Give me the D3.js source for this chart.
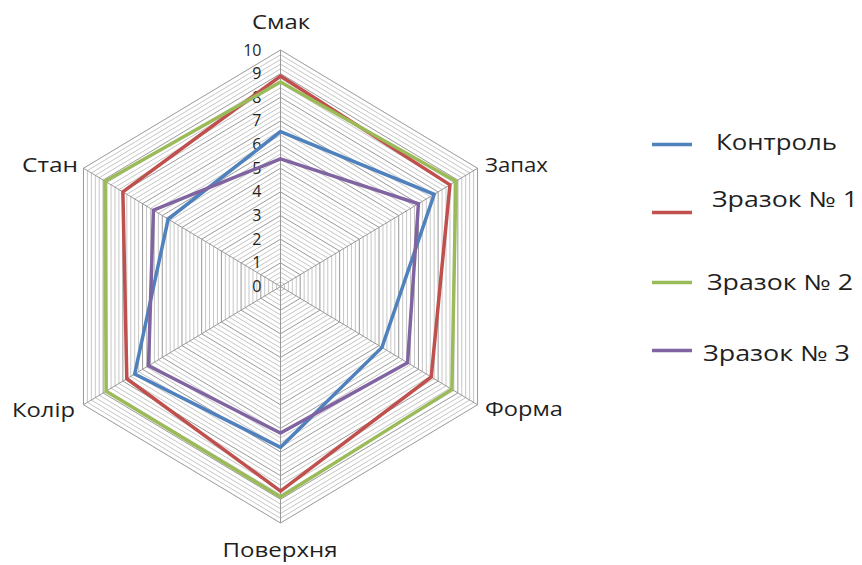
<!DOCTYPE html>
<html>
<head>
<meta charset="utf-8">
<script src="https://cdn.jsdelivr.net/npm/d3@7"></script>
<style>
  html, body { margin: 0; padding: 0; background: #fff; }
  svg { display: block; }
  text { font-family: "Open Sans", "Noto Sans", sans-serif; fill: #1f1f1f; }
</style>
</head>
<body>
<svg id="chart" width="862" height="565"></svg>
<script>
// ---- data ----
const categories = ["Смак", "Запах", "Форма", "Поверхня", "Колір", "Стан"];
const seriesNames = ["Контроль", "Зразок № 1", "Зразок № 2", "Зразок № 3"];
const kontrol = [6.55, 7.8, 5.15, 6.8, 7.4, 5.7];
const zrazok1 = [8.9, 8.6, 7.65, 8.65, 7.8, 8.0];
const zrazok2 = [8.65, 8.9, 8.7, 8.9, 8.85, 8.9];
const zrazok3 = [5.4, 7.0, 6.45, 6.2, 6.7, 6.45];
const tickLabels = [0, 1, 2, 3, 4, 5, 6, 7, 8, 9, 10];
const seriesValues = [kontrol, zrazok1, zrazok2, zrazok3];

// ---- style / layout ----
const colors = ["#4F81BD", "#C0504D", "#9BBB59", "#8064A2"];
const cx = 280.5, cy = 286.5, R = 236.5, kx = 0.962;
const svg = d3.select("#chart");
const r = d3.scaleLinear().domain([0, 10]).range([0, R]);
const angle = d3.scaleLinear().domain([0, categories.length]).range([0, 2 * Math.PI]);
const px = (i, v) => cx + kx * r(v) * Math.sin(angle(i));
const py = (i, v) => cy - r(v) * Math.cos(angle(i));

const g = svg.append("g");

// minor grid
const minorLevels = d3.range(0, 10.001, 0.2).filter(v => Math.abs(v - Math.round(v)) > 1e-6);
const ring = v => categories.map((c, i) => [px(i, v), py(i, v)]);
const lineClosed = d3.line().curve(d3.curveLinearClosed);
g.selectAll("path.minor").data(minorLevels).enter().append("path")
  .attr("class", "minor")
  .attr("d", v => lineClosed(ring(v)))
  .attr("fill", "none").attr("stroke", "#c6c6c6").attr("stroke-width", 1);
// major grid
g.selectAll("path.major").data(tickLabels.filter(v => v > 0)).enter().append("path")
  .attr("class", "major")
  .attr("d", v => lineClosed(ring(v)))
  .attr("fill", "none").attr("stroke", "#999999").attr("stroke-width", 1);
// spokes
g.selectAll("line.spoke").data(categories).enter().append("line")
  .attr("x1", cx).attr("y1", cy)
  .attr("x2", (c, i) => px(i, 10)).attr("y2", (c, i) => py(i, 10))
  .attr("stroke", "#999999").attr("stroke-width", 1);

// tick labels
g.selectAll("text.tick").data(tickLabels).enter().append("text")
  .attr("x", cx - 19).attr("y", v => cy - r(v) + 5.5)
  .attr("text-anchor", "end").attr("font-size", 16)
  .text(d => d);

// series
const lineOpen = d3.line().curve(d3.curveLinearClosed);
seriesValues.forEach((vals, s) => {
  g.append("path")
    .attr("d", lineOpen(vals.map((v, i) => [px(i, v), py(i, v)])))
    .attr("fill", "none").attr("stroke", colors[s]).attr("stroke-width", 3.5)
    .attr("stroke-linejoin", "miter");
});

// category labels
const catPos = [
  {x: 281, y: 29, anchor: "middle", w: 58},
  {x: 485, y: 172, anchor: "start", w: 63},
  {x: 485, y: 416, anchor: "start", w: 78},
  {x: 280, y: 557, anchor: "middle", w: 115},
  {x: 12, y: 417, anchor: "start", w: 63},
  {x: 22, y: 172, anchor: "start", w: 56}
];
categories.forEach((c, i) => {
  g.append("text").attr("x", catPos[i].x).attr("y", catPos[i].y)
    .attr("text-anchor", catPos[i].anchor).attr("font-size", 20)
    .attr("textLength", catPos[i].w).attr("lengthAdjust", "spacingAndGlyphs")
    .text(c);
});

// legend
const legPos = [
  {ly: 144.5, tx: 716, ty: 150, w: 121},
  {ly: 212.5, tx: 712, ty: 207, w: 146},
  {ly: 282.5, tx: 707, ty: 290, w: 146},
  {ly: 350.5, tx: 703, ty: 361, w: 147}
];
seriesNames.forEach((n, s) => {
  g.append("line").attr("x1", 652).attr("x2", 692)
    .attr("y1", legPos[s].ly).attr("y2", legPos[s].ly)
    .attr("stroke", colors[s]).attr("stroke-width", 3.5);
  g.append("text").attr("x", legPos[s].tx).attr("y", legPos[s].ty)
    .attr("font-size", 21)
    .attr("textLength", legPos[s].w).attr("lengthAdjust", "spacingAndGlyphs")
    .text(n);
});
</script>
</body>
</html>
